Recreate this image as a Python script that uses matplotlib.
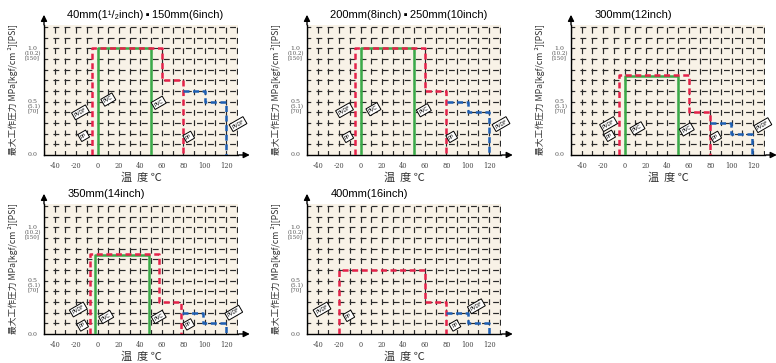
import matplotlib.pyplot as plt

plt.rcParams['lines.scale_dashes'] = False

# 패널별 데이터
titles = ['40mm(1¹/₂inch)\u2009▪\u2009150mm(6inch)', '200mm(8inch)\u2009▪\u2009250mm(10inch)',
          '300mm(12inch)', '350mm(14inch)', '400mm(16inch)']

red_x = [[-5, -5, 60, 60, 80, 80], [-5, -5, 60, 60, 80, 80], [-5, -5, 60, 60, 80, 80],
         [-7, -7, 57, 57, 78, 78], [-20, -20, 60, 60, 80, 80]]
red_y = [[0, 1.0, 1.0, 0.7, 0.7, 0], [0, 1.0, 1.0, 0.6, 0.6, 0], [0, 0.75, 0.75, 0.4, 0.4, 0],
         [0, 0.75, 0.75, 0.3, 0.3, 0], [0, 0.6, 0.6, 0.3, 0.3, 0]]
green_x = [[0, 0, 50, 50], [0, 0, 50, 50], [0, 0, 50, 50], [-2, -2, 48, 48], []]
green_y = [[0, 1.0, 1.0, 0], [0, 1.0, 1.0, 0], [0, 0.74, 0.74, 0], [0, 0.74, 0.74, 0], []]
blue_x = [[80, 100, 100, 120, 120], [81, 100, 100, 120, 120], [80, 99, 99, 119, 119],
          [79, 98, 98, 120, 120], [80, 100, 100, 120, 120]]
blue_y = [[0.6, 0.6, 0.5, 0.5, 0], [0.5, 0.5, 0.4, 0.4, 0], [0.3, 0.3, 0.2, 0.2, 0],
          [0.2, 0.2, 0.1, 0.1, 0], [0.2, 0.2, 0.1, 0.1, 0]]

# 재질 라벨 (텍스트, x, y)
tags = [
    [('PVDF', -16, 0.40), ('PP', -13, 0.18), ('PVC', 10, 0.52), ('PVC', 57, 0.49), ('PP', 85, 0.17), ('PVDF', 131, 0.29)],
    [('PVDF', -15, 0.42), ('PP', -12, 0.17), ('PVC', 12, 0.43), ('PVC', 59, 0.42), ('PP', 85, 0.17), ('PVDF', 131, 0.29)],
    [('PVDF', -15, 0.29), ('PP', -14, 0.18), ('PVC', 12, 0.25), ('PVC', 58, 0.24), ('PP', 85, 0.17), ('PVDF', 129, 0.28)],
    [('PVDF', -18, 0.23), ('PP', -14, 0.08), ('PVC', 8, 0.16), ('PVC', 57, 0.16), ('PP', 85, 0.09), ('PVDF', 127, 0.20)],
    [('PVDF', -36, 0.23), ('PP', -11, 0.17), ('PP', 88, 0.08), ('PVDF', 108, 0.26)],
]

x_ticks = [-40, -20, 0, 20, 40, 60, 80, 100, 120]
y_labels = [(1.0, '1.0', '(10.2)', '[150]'), (0.5, '0.5', '(5.1)', '[70]'), (0.0, '0.0', '', '')]

W, H = 776, 363
panels_px = [(44, 155), (307, 155), (571, 155), (44, 334), (307, 334)]
cjk = ['Noto Sans CJK JP', 'DejaVu Sans']

fig = plt.figure(figsize=(W / 100, H / 100), dpi=100)

for i in range(5):
    left, bottom = panels_px[i]
    ax = fig.add_axes([left / W, (H - bottom) / H, 194 / W, 130 / H])
    ax.set_facecolor('#f8f2e7')
    ax.set_xlim(-50, 131)
    ax.set_ylim(0, 1.22)

    # 점선 격자 (주기를 살짝 어긋나게 해서 무늬가 바뀌도록)
    for gx in range(-50, 131, 10):
        ax.axvline(gx, color='#2a2a2a', lw=0.85, ls=(1.0, (4.2, 3.2)), zorder=1)
    for k in range(1, 13):
        ax.axhline(k * 0.1, color='#2a2a2a', lw=0.85, ls=(1.5, (4.2, 3.75)), zorder=1)

    if green_x[i]:
        ax.plot(green_x[i], green_y[i], color='#3aaa48', lw=1.8, zorder=3)
    ax.plot(red_x[i], red_y[i], color='#e5224a', lw=1.8, ls=(0, (4.3, 2.6)), zorder=4)
    ax.plot(blue_x[i], blue_y[i], color='#1d5fb4', lw=1.8, ls=(0, (4.3, 2.6)), zorder=4)

    for t, tx, ty in tags[i]:
        ax.text(tx, ty, t, fontsize=3.6, rotation=30, ha='center', va='center', zorder=6,
                bbox=dict(boxstyle='square,pad=0.3', fc='white', ec='black', lw=0.7))

    for s in ['top', 'right']:
        ax.spines[s].set_visible(False)
    ax.spines['left'].set_linewidth(1.0)
    ax.spines['bottom'].set_linewidth(1.0)
    ax.annotate('', xy=(0, 1.1), xytext=(0, 0.98), xycoords='axes fraction',
                arrowprops=dict(arrowstyle='-|>', color='black', lw=1, mutation_scale=9))
    ax.annotate('', xy=(1.075, 0), xytext=(0.99, 0), xycoords='axes fraction',
                arrowprops=dict(arrowstyle='-|>', color='black', lw=1, mutation_scale=9))

    ax.set_xticks(x_ticks)
    ax.set_xticklabels([str(v) for v in x_ticks], family='DejaVu Serif', fontsize=4.8, color='#444444')
    ax.tick_params(axis='x', length=0, pad=5)
    ax.set_yticks([])
    for yv, a, b, c in y_labels:
        tr = ax.get_yaxis_transform()
        ax.text(-0.035, yv, a, transform=tr, ha='right', va='center', family='DejaVu Serif',
                fontsize=4.5, color='#555555')
        if b:
            ax.text(-0.015, yv - 0.045, b, transform=tr, ha='right', va='center', family='DejaVu Serif',
                    fontsize=4, color='#555555')
            ax.text(-0.025, yv - 0.09, c, transform=tr, ha='right', va='center', family='DejaVu Serif',
                    fontsize=4, color='#555555')

    ax.text(0.12, 1.04, titles[i], transform=ax.transAxes, fontsize=8,
            family=['Liberation Sans', 'DejaVu Sans'], ha='left', va='bottom')
    ax.set_ylabel('最大工作圧力 MPa[kgf/cm ²][PSI]', family=cjk, fontsize=6.3, color='#333333', labelpad=19)
    ax.set_xlabel('温  度 ℃', family=cjk, fontsize=8, color='#333333', labelpad=2)

fig.savefig('out.png', dpi=100)
